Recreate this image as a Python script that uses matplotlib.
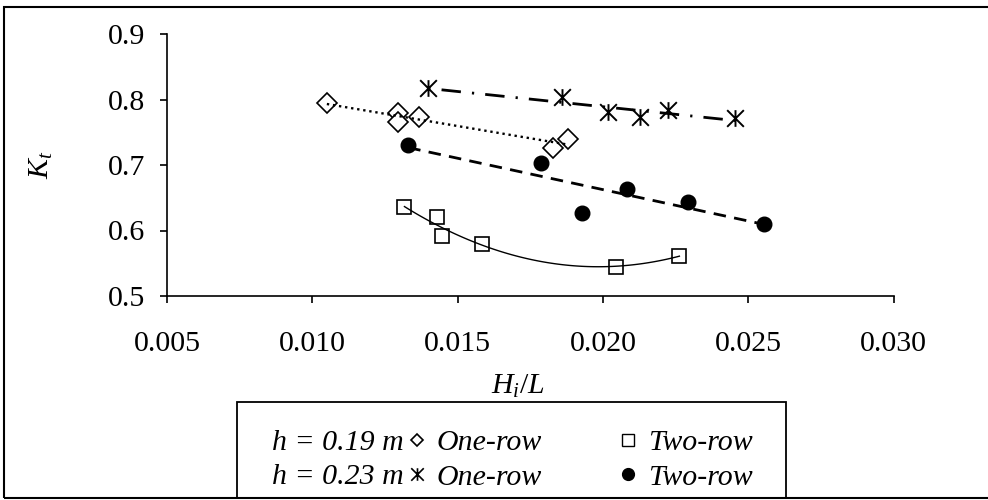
import numpy as np
import matplotlib
matplotlib.use("Agg")
import matplotlib.pyplot as plt
from matplotlib.lines import Line2D
from matplotlib.patches import Rectangle
from matplotlib.path import Path
from matplotlib.ticker import FormatStrFormatter

# wave steepness H_i/L and transmission coefficient K_t
x_019_one = [0.0105, 0.01296, 0.01296, 0.01368, 0.01827, 0.01881]
y_019_one = [0.794, 0.779, 0.766, 0.774, 0.726, 0.739]

x_019_two = [0.01317, 0.0143, 0.01445, 0.01585, 0.02044, 0.02263]
y_019_two = [0.636, 0.620, 0.592, 0.579, 0.545, 0.561]

x_023_one = [0.01399, 0.01858, 0.02019, 0.02128, 0.02225, 0.02455]
y_023_one = [0.817, 0.804, 0.781, 0.773, 0.784, 0.771]

x_023_two = [0.0133, 0.01787, 0.01927, 0.02084, 0.02294, 0.02555]
y_023_two = [0.7305, 0.7026, 0.627, 0.663, 0.644, 0.6095]

x_ticks = [0.005, 0.010, 0.015, 0.020, 0.025, 0.030]
y_ticks = [0.5, 0.6, 0.7, 0.8, 0.9]

plt.rcParams['font.family'] = ['Liberation Serif', 'DejaVu Serif']
plt.rcParams['font.size'] = 21.5
plt.rcParams['mathtext.fontset'] = 'custom'
plt.rcParams['mathtext.rm'] = 'Liberation Serif'
plt.rcParams['mathtext.it'] = 'Liberation Serif:italic'

fig = plt.figure(figsize=(9.88, 5.0), dpi=100)
ax = fig.add_axes([167 / 988, 1 - 296 / 500, 726.6 / 988, 262 / 500])

# Excel style star: an X with a vertical bar through it
star = Path([(0, -1), (0, 1), (-1, -1), (1, 1), (-1, 1), (1, -1)],
            [Path.MOVETO, Path.LINETO] * 3)

ax.plot(x_019_one, y_019_one, ls='none', marker='D', ms=10, mfc='white',
        mec='black', mew=1.2, zorder=3)
ax.plot(x_019_two, y_019_two, ls='none', marker='s', ms=9.5, mfc='white',
        mec='black', mew=1.2, zorder=3)
ax.plot(x_023_one, y_023_one, ls='none', marker=star, ms=12, mec='black',
        mew=1.4, zorder=3)
ax.plot(x_023_two, y_023_two, ls='none', marker='o', ms=10.5, mfc='black',
        mec='black', zorder=3)

# trendlines: linear for three series, 2nd order for the two-row h=0.19
def trend(xs, ys, deg, n=100):
    c = np.polyfit(xs, ys, deg)
    xx = np.linspace(min(xs), max(xs), n)
    return xx, np.polyval(c, xx)

tx, ty = trend(x_019_one, y_019_one, 1)
ax.plot(tx, ty, color='black', lw=1.7, ls=(0, (1, 1.6)), zorder=4)
tx, ty = trend(x_023_one, y_023_one, 1)
ax.plot(tx, ty, color='black', lw=2.0, ls=(0, (0.8, 4, 7, 4)), zorder=4)
tx, ty = trend(x_023_two, y_023_two, 1)
ax.plot(tx, ty, color='black', lw=2.0, ls=(0, (4.5, 3)), zorder=4)
tx, ty = trend(x_019_two, y_019_two, 2)
ax.plot(tx, ty, color='black', lw=1.0, zorder=4)

ax.set_xlim(0.005, 0.030)
ax.set_ylim(0.5, 0.9)
ax.set_xticks(x_ticks)
ax.set_yticks(y_ticks)
ax.xaxis.set_major_formatter(FormatStrFormatter('%.3f'))
ax.yaxis.set_major_formatter(FormatStrFormatter('%.1f'))
ax.tick_params(direction='out', length=5, width=1.2, colors='black')
ax.tick_params(axis='x', pad=20)
ax.tick_params(axis='y', pad=11)
for s in ['top', 'right']:
    ax.spines[s].set_visible(False)
for s in ['left', 'bottom']:
    ax.spines[s].set_linewidth(1.2)

ax.set_xlabel(r'$H_i/L$')
ax.set_ylabel(r'$K_t$')
ax.xaxis.set_label_coords(0.483, -0.294)
ax.yaxis.set_label_coords(-0.154, 0.5)

# outer border and legend box
fig.add_artist(Rectangle((4 / 988, 2 / 500), 1.1, 491 / 500, fill=False,
                         ec='black', lw=1.5, transform=fig.transFigure,
                         clip_on=False))
fig.add_artist(Rectangle((237 / 988, 2 / 500), 549 / 988, 96 / 500,
                         fill=False, ec='black', lw=1.3,
                         transform=fig.transFigure, clip_on=False))

fig.text(272 / 988, 1 - 443 / 500, 'h = 0.19 m', style='italic',
         va='center', ha='left')
fig.text(272 / 988, 1 - 477 / 500, 'h = 0.23 m', style='italic',
         va='center', ha='left')

handles = [
    Line2D([], [], ls='none', marker='D', ms=6.5, mfc='white', mec='black',
           mew=1.2),
    Line2D([], [], ls='none', marker=star, ms=9, mec='black', mew=1.2),
    Line2D([], [], ls='none', marker='s', ms=8, mfc='white', mec='black',
           mew=1.0),
    Line2D([], [], ls='none', marker='o', ms=8.5, mfc='black', mec='black'),
]
labels = ['One-row', 'One-row', 'Two-row', 'Two-row']
leg = fig.legend(handles, labels, ncol=2, frameon=False, loc='center left',
                 bbox_to_anchor=(405 / 988, 1 - 460 / 500), borderpad=0,
                 borderaxespad=0, handlelength=0.8, handletextpad=0.27,
                 columnspacing=2.46, labelspacing=0.25,
                 prop={'style': 'italic', 'size': 21.5})

fig.savefig('out.png', dpi=100)
